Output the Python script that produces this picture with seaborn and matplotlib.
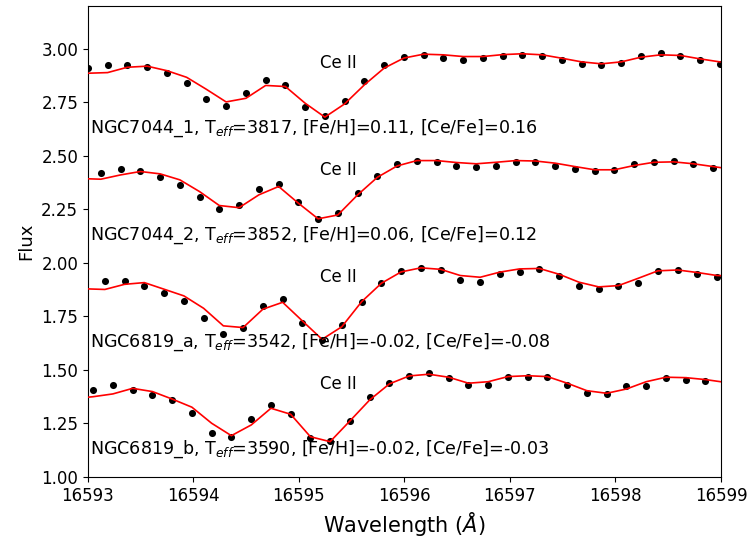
import matplotlib
matplotlib.use("Agg")
import matplotlib.pyplot as plt
import seaborn as sns

# Star parameters
stars = ["NGC7044_1", "NGC7044_2", "NGC6819_a", "NGC6819_b"]
teff = [3817, 3852, 3542, 3590]
feh = ["0.11", "0.06", "-0.02", "-0.02"]
cefe = ["0.16", "0.12", "-0.08", "-0.03"]
line_name = "Ce II"
line_label_x = 16595.2
label_x = 16593.02
label_y = [2.63, 2.13, 1.63, 1.13]
line_label_y = [2.935, 2.435, 1.935, 1.435]

# NGC7044_1 (offset +1.5)
wl_1 = [16593.000, 16593.187, 16593.374, 16593.562, 16593.749, 16593.936, 16594.123,
        16594.310, 16594.498, 16594.685, 16594.872, 16595.059, 16595.246, 16595.434,
        16595.621, 16595.808, 16595.995, 16596.182, 16596.370, 16596.557, 16596.744,
        16596.931, 16597.118, 16597.306, 16597.493, 16597.680, 16597.867, 16598.054,
        16598.242, 16598.429, 16598.616, 16598.803, 16598.990]
obs_1 = [2.910, 2.925, 2.925, 2.913, 2.889, 2.842, 2.765, 2.735, 2.793, 2.854, 2.832,
         2.730, 2.688, 2.754, 2.849, 2.925, 2.962, 2.972, 2.956, 2.947, 2.955, 2.967,
         2.972, 2.967, 2.949, 2.930, 2.924, 2.936, 2.967, 2.980, 2.967, 2.949, 2.930]
syn_1 = [2.886, 2.889, 2.914, 2.919, 2.898, 2.867, 2.811, 2.752, 2.769, 2.829, 2.824,
         2.746, 2.681, 2.743, 2.832, 2.910, 2.957, 2.975, 2.972, 2.964, 2.964, 2.973,
         2.977, 2.972, 2.956, 2.939, 2.930, 2.939, 2.961, 2.972, 2.969, 2.953, 2.939]

# NGC7044_2 (offset +1.0)
wl_2 = [16592.936, 16593.123, 16593.310, 16593.497, 16593.685, 16593.872, 16594.059,
        16594.246, 16594.433, 16594.621, 16594.808, 16594.995, 16595.182, 16595.369,
        16595.557, 16595.744, 16595.931, 16596.118, 16596.305, 16596.492, 16596.680,
        16596.867, 16597.054, 16597.241, 16597.428, 16597.616, 16597.803, 16597.990,
        16598.177, 16598.364, 16598.552, 16598.739, 16598.926, 16599.113]
obs_2 = [2.400, 2.419, 2.438, 2.431, 2.400, 2.364, 2.307, 2.252, 2.271, 2.346, 2.368,
         2.284, 2.206, 2.235, 2.326, 2.408, 2.463, 2.478, 2.470, 2.455, 2.450, 2.455,
         2.472, 2.472, 2.455, 2.441, 2.430, 2.435, 2.461, 2.472, 2.478, 2.461, 2.442,
         2.435]
syn_2 = [2.394, 2.391, 2.411, 2.427, 2.416, 2.388, 2.333, 2.268, 2.258, 2.318, 2.357,
         2.279, 2.206, 2.224, 2.318, 2.400, 2.453, 2.478, 2.478, 2.469, 2.463, 2.470,
         2.478, 2.476, 2.466, 2.450, 2.435, 2.435, 2.455, 2.470, 2.472, 2.463, 2.450,
         2.437]

# NGC6819_a (offset +0.5)
wl_3 = [16592.974, 16593.161, 16593.348, 16593.535, 16593.723, 16593.910, 16594.097,
        16594.284, 16594.471, 16594.659, 16594.846, 16595.033, 16595.220, 16595.407,
        16595.595, 16595.782, 16595.969, 16596.156, 16596.343, 16596.530, 16596.718,
        16596.905, 16597.092, 16597.279, 16597.466, 16597.654, 16597.841, 16598.028,
        16598.215, 16598.402, 16598.590, 16598.777, 16598.964, 16599.151]
obs_3 = [1.900, 1.917, 1.917, 1.894, 1.858, 1.822, 1.741, 1.668, 1.698, 1.800, 1.830,
         1.721, 1.640, 1.710, 1.816, 1.908, 1.961, 1.976, 1.966, 1.921, 1.913, 1.947,
         1.959, 1.972, 1.941, 1.894, 1.877, 1.894, 1.905, 1.963, 1.966, 1.947, 1.936,
         1.930]
syn_3 = [1.879, 1.876, 1.900, 1.908, 1.877, 1.846, 1.788, 1.706, 1.698, 1.784, 1.816,
         1.729, 1.643, 1.702, 1.819, 1.905, 1.958, 1.977, 1.970, 1.941, 1.933, 1.957,
         1.972, 1.974, 1.947, 1.910, 1.888, 1.894, 1.928, 1.963, 1.967, 1.955, 1.941,
         1.940]

# NGC6819_b (no offset)
wl_4 = [16592.863, 16593.050, 16593.237, 16593.424, 16593.612, 16593.799, 16593.986,
        16594.173, 16594.360, 16594.548, 16594.735, 16594.922, 16595.109, 16595.296,
        16595.484, 16595.671, 16595.858, 16596.045, 16596.232, 16596.419, 16596.607,
        16596.794, 16596.981, 16597.168, 16597.355, 16597.543, 16597.730, 16597.917,
        16598.104, 16598.291, 16598.479, 16598.666, 16598.853, 16599.040]
obs_4 = [1.390, 1.407, 1.430, 1.407, 1.383, 1.360, 1.301, 1.204, 1.188, 1.271, 1.336,
         1.293, 1.181, 1.168, 1.263, 1.372, 1.438, 1.473, 1.487, 1.461, 1.430, 1.430,
         1.466, 1.467, 1.466, 1.430, 1.394, 1.386, 1.425, 1.425, 1.461, 1.453, 1.449,
         1.440]
syn_4 = [1.366, 1.375, 1.388, 1.414, 1.399, 1.364, 1.326, 1.251, 1.193, 1.243, 1.321,
         1.293, 1.188, 1.165, 1.262, 1.360, 1.435, 1.472, 1.480, 1.466, 1.438, 1.445,
         1.469, 1.473, 1.469, 1.438, 1.403, 1.391, 1.411, 1.445, 1.466, 1.464, 1.455,
         1.442]

wavelengths = [wl_1, wl_2, wl_3, wl_4]
observed = [obs_1, obs_2, obs_3, obs_4]
synthetic = [syn_1, syn_2, syn_3, syn_4]

fig, ax = plt.subplots(figsize=(7.51, 5.47), dpi=100)
fig.subplots_adjust(left=0.117, right=0.960, bottom=0.128, top=0.989)

for i in range(len(stars)):
    sns.scatterplot(x=wavelengths[i], y=observed[i], ax=ax, color="black",
                    s=26, linewidth=0, zorder=2)
    sns.lineplot(x=wavelengths[i], y=synthetic[i], ax=ax, color="red",
                 sort=False, estimator=None, linewidth=1.2, zorder=3)
    ax.text(label_x, label_y[i],
            f"{stars[i]}, T$_{{eff}}$={teff[i]}, [Fe/H]={feh[i]}, [Ce/Fe]={cefe[i]}",
            fontsize=12.6, va="center", ha="left")
    ax.text(line_label_x, line_label_y[i], line_name, fontsize=12,
            va="center", ha="left")

ax.set_xlim(16593, 16599)
ax.set_ylim(1.0, 3.2)
ax.ticklabel_format(axis="x", useOffset=False, style="plain")
ax.tick_params(labelsize=12)
ax.set_xlabel("Wavelength ($\\AA$)", fontsize=15)
ax.set_ylabel("Flux", fontsize=13)

fig.savefig("out.png", dpi=100)
